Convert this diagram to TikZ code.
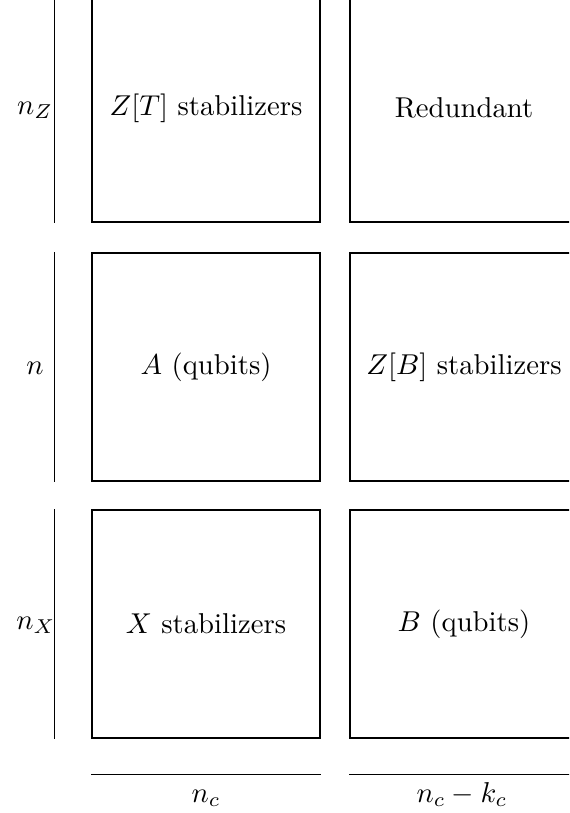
\documentclass[tikz,border=0pt]{standalone}
\usetikzlibrary{calc}
\begin{document}
\begin{tikzpicture}[x=0.3484pt,y=-0.3484pt,
  blk/.style={draw,line width=0.4pt,minimum width=79.4pt,minimum height=79.4pt,inner sep=0pt},
  lbl/.style={inner sep=1pt}]
\useasboundingbox (0,0) rectangle (569,813);
\clip (0,0) rectangle (569,813);
% boxes
\node[blk] (zt) at (206,108) {$Z[T]$ stabilizers};
\node[blk] (rd) at (464,108) {Redundant};
\node[blk] (aq) at (206,367) {$A$ (qubits)};
\node[blk] (zb) at (464,367) {$Z[B]$ stabilizers};
\node[blk] (xs) at (206,624) {$X$ stabilizers};
\node[blk] (bq) at (464,624) {$B$ (qubits)};
% left brackets
\draw ($(zt.north west)+(-37,0)$) coordinate (l1a) -- ($(zt.south west)+(-37,0)$) coordinate (l1b);
\draw ($(aq.north west)+(-37,0)$) coordinate (l2a) -- ($(aq.south west)+(-37,0)$) coordinate (l2b);
\draw ($(xs.north west)+(-37,0)$) coordinate (l3a) -- ($(xs.south west)+(-37,0)$) coordinate (l3b);
\node[lbl] (nz) at (35,110) {$n_Z$};
\node[lbl] (nn) at (35,368) {$n$};
\node[lbl] (nx) at (36,625) {$n_X$};
% bottom brackets
\draw ($(xs.south west)+(0,36)$) coordinate (b1a) -- ($(xs.south east)+(0,36)$) coordinate (b1b);
\draw ($(bq.south west)+(0,36)$) coordinate (b2a) -- ($(bq.south east)+(0,36)$) coordinate (b2b);
\node[lbl,anchor=base] (nc) at ($(b1a)!0.5!(b1b)+(0,28)$) {$n_c$};
\node[lbl,anchor=base] (nk) at ($(b2a)!0.5!(b2b)+(-2,28)$) {$n_c-k_c$};
\end{tikzpicture}
\end{document}
